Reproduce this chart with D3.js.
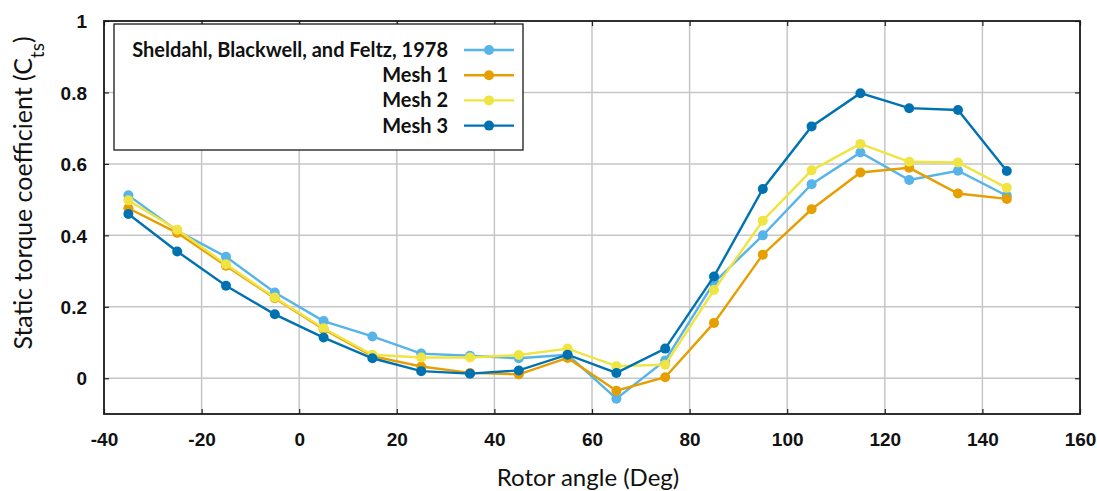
<!DOCTYPE html>
<html>
<head>
<meta charset="utf-8">
<script src="https://cdn.jsdelivr.net/npm/d3@7"></script>
<style>
  body { margin: 0; background: #fff; }
  svg { font-family: Lato, "Open Sans", sans-serif; }
</style>
</head>
<body>
<svg id="chart" width="1097" height="491"></svg>
<script>
// rotor angle (deg)
const angles = [-35, -25, -15, -5, 5, 15, 25, 35, 45, 55, 65, 75, 85, 95, 105, 115, 125, 135, 145];

// static torque coefficient per series
const sheldahl = [0.512, 0.413, 0.340, 0.240, 0.160, 0.117, 0.069, 0.063, 0.056, 0.066, -0.057, 0.050, 0.268, 0.400, 0.543, 0.632, 0.555, 0.581, 0.511];
const mesh1 = [0.476, 0.407, 0.315, 0.224, 0.137, 0.062, 0.033, 0.015, 0.011, 0.057, -0.035, 0.003, 0.155, 0.346, 0.473, 0.576, 0.589, 0.517, 0.502];
const mesh2 = [0.498, 0.416, 0.319, 0.226, 0.140, 0.066, 0.058, 0.058, 0.065, 0.083, 0.034, 0.038, 0.247, 0.441, 0.582, 0.656, 0.606, 0.604, 0.533];
const mesh3 = [0.460, 0.355, 0.259, 0.179, 0.114, 0.056, 0.020, 0.013, 0.022, 0.066, 0.015, 0.083, 0.285, 0.530, 0.705, 0.798, 0.756, 0.751, 0.580];

const seriesNames = ["Sheldahl, Blackwell, and Feltz, 1978", "Mesh 1", "Mesh 2", "Mesh 3"];
const seriesColors = ["#56B4E9", "#E69F00", "#F0E442", "#0072B2"];
const seriesValues = [sheldahl, mesh1, mesh2, mesh3];

const xTicks = [-40, -20, 0, 20, 40, 60, 80, 100, 120, 140, 160];
const yTicks = [0, 0.2, 0.4, 0.6, 0.8, 1];

const plotL = 104, plotR = 1080, plotT = 21, plotB = 414;

const svg = d3.select("#chart");

const x = d3.scaleLinear().domain([-40, 160]).range([plotL, plotR]);
const y = d3.scaleLinear().domain([-0.1, 1]).range([plotB, plotT]);

// grid
const grid = svg.append("g").attr("stroke", "#c6c6c6").attr("stroke-width", 1.5);
grid.selectAll(".gx").data(xTicks.slice(1, -1)).enter().append("line")
  .attr("x1", d => x(d)).attr("x2", d => x(d))
  .attr("y1", plotT).attr("y2", plotB);
grid.selectAll(".gy").data(yTicks.slice(0, -1)).enter().append("line")
  .attr("x1", plotL).attr("x2", plotR)
  .attr("y1", d => y(d)).attr("y2", d => y(d));

// axes
const fmtY = d => d === 0 ? "0" : d === 1 ? "1" : d3.format(".1f")(d);
const fmtX = d => String(d); // plain hyphen like the original

const xAxis = svg.append("g")
  .attr("transform", `translate(0,${plotB})`)
  .call(d3.axisBottom(x).tickValues(xTicks).tickSize(-5).tickSizeOuter(0).tickPadding(19).tickFormat(fmtX));
const xTop = svg.append("g")
  .attr("transform", `translate(0,${plotT})`)
  .call(d3.axisTop(x).tickValues(xTicks).tickSize(-5).tickSizeOuter(0).tickFormat(""));
const yAxis = svg.append("g")
  .attr("transform", `translate(${plotL},0)`)
  .call(d3.axisLeft(y).tickValues(yTicks).tickSize(-5).tickSizeOuter(0).tickPadding(17).tickFormat(fmtY));
const yRight = svg.append("g")
  .attr("transform", `translate(${plotR},0)`)
  .call(d3.axisRight(y).tickValues(yTicks).tickSize(-5).tickSizeOuter(0).tickFormat(""));

[xAxis, xTop, yAxis, yRight].forEach(g => {
  g.select(".domain").remove();
  g.selectAll(".tick line").attr("stroke", "#222").attr("stroke-width", 1.2);
  g.selectAll(".tick text")
    .attr("fill", "#111")
    .style("font-size", "19px")
    .style("font-weight", "bold");
});
yAxis.selectAll(".tick text").attr("dy", "0.35em");

// frame
svg.append("rect")
  .attr("x", plotL).attr("y", plotT)
  .attr("width", plotR - plotL).attr("height", plotB - plotT)
  .attr("fill", "none").attr("stroke", "#1a1a1a").attr("stroke-width", 1.8);

// series
const line = d3.line().x((d, i) => x(angles[i])).y(d => y(d));
seriesValues.forEach((vals, k) => {
  const g = svg.append("g");
  g.append("path").datum(vals)
    .attr("d", line)
    .attr("fill", "none")
    .attr("stroke", seriesColors[k])
    .attr("stroke-width", 2.4);
  g.selectAll("circle").data(vals).enter().append("circle")
    .attr("cx", (d, i) => x(angles[i]))
    .attr("cy", d => y(d))
    .attr("r", 5)
    .attr("fill", seriesColors[k]);
});

// legend
const legend = svg.append("g");
legend.append("rect")
  .attr("x", 114).attr("y", 24)
  .attr("width", 409).attr("height", 126)
  .attr("fill", "#fff").attr("stroke", "#1a1a1a").attr("stroke-width", 1.3);
seriesNames.forEach((name, k) => {
  const ly = 50 + k * 25.2;
  legend.append("text")
    .attr("x", 448).attr("y", ly).attr("dy", "0.35em")
    .attr("text-anchor", "end")
    .style("font-size", "20px").style("font-weight", "bold")
    .attr("fill", "#111")
    .text(name);
  legend.append("line")
    .attr("x1", 464).attr("x2", 514)
    .attr("y1", ly).attr("y2", ly)
    .attr("stroke", seriesColors[k]).attr("stroke-width", 2.4);
  legend.append("circle")
    .attr("cx", 489).attr("cy", ly).attr("r", 5)
    .attr("fill", seriesColors[k]);
});

// axis titles
svg.append("text")
  .attr("x", 588).attr("y", 486)
  .attr("text-anchor", "middle")
  .style("font-size", "24px")
  .attr("fill", "#111")
  .text("Rotor angle (Deg)");

const yt = svg.append("text")
  .attr("transform", "translate(32,193) rotate(-90)")
  .attr("text-anchor", "middle")
  .style("font-size", "25px")
  .attr("fill", "#111");
yt.append("tspan").text("Static torque coefficient (C");
yt.append("tspan").attr("baseline-shift", "sub").style("font-size", "19px").text("ts");
yt.append("tspan").text(")");
</script>
</body>
</html>
